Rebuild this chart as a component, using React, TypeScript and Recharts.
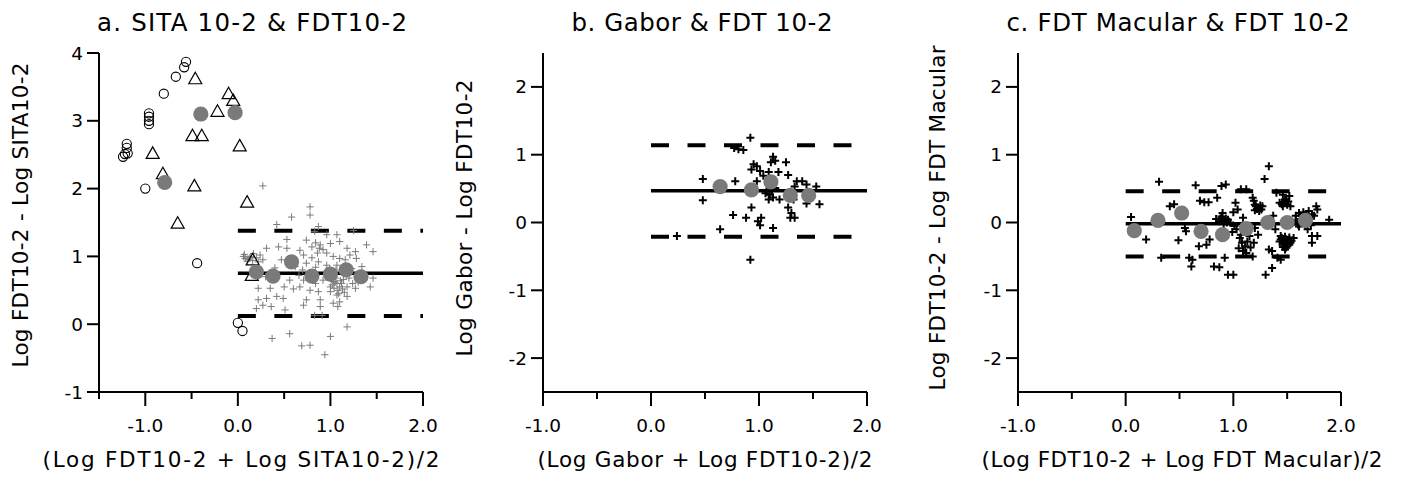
import { ReferenceLine, Scatter, ScatterChart, XAxis, YAxis } from 'recharts';

// ---- panel a: SITA 10-2 vs FDT10-2 ----
const aOpenCircles = [
  { x: -0.56, y: 3.87 }, { x: -0.58, y: 3.79 }, { x: -0.67, y: 3.65 }, { x: -0.8, y: 3.4 },
  { x: -0.96, y: 3.11 }, { x: -0.96, y: 3.06 }, { x: -0.96, y: 3.0 }, { x: -0.96, y: 2.95 },
  { x: -1.2, y: 2.66 }, { x: -1.2, y: 2.6 }, { x: -1.22, y: 2.51 }, { x: -1.24, y: 2.47 },
  { x: -1.19, y: 2.52 }, { x: -1.0, y: 2.0 }, { x: -0.44, y: 0.9 }, { x: 0.0, y: 0.02 },
  { x: 0.05, y: -0.1 },
];
const aTriangles = [
  { x: -0.46, y: 3.62 }, { x: -0.1, y: 3.4 }, { x: -0.05, y: 3.3 }, { x: -0.22, y: 3.14 },
  { x: -0.49, y: 2.78 }, { x: -0.39, y: 2.78 }, { x: -0.92, y: 2.52 }, { x: 0.02, y: 2.63 },
  { x: -0.81, y: 2.22 }, { x: -0.47, y: 2.04 }, { x: 0.1, y: 1.8 }, { x: -0.65, y: 1.49 },
  { x: 0.16, y: 0.95 }, { x: 0.15, y: 0.72 },
];
const aCrosses = [
  { x: 0.27, y: 2.04 }, { x: 0.78, y: 1.73 }, { x: 0.78, y: 1.61 }, { x: 0.58, y: 1.58 }, { x: 0.42, y: 1.47 },
  { x: 0.87, y: 1.44 }, { x: 1.25, y: 1.38 }, { x: 0.83, y: 1.37 }, { x: 0.96, y: 1.32 }, { x: 1.07, y: 1.32 },
  { x: 0.53, y: 1.25 }, { x: 0.74, y: 1.24 }, { x: 1.1, y: 1.22 }, { x: 1.39, y: 1.17 }, { x: 1.46, y: 1.07 },
  { x: 0.31, y: 1.12 }, { x: 0.44, y: 1.14 }, { x: 0.53, y: 1.12 }, { x: 0.67, y: 1.09 }, { x: 0.8, y: 1.14 },
  { x: 0.89, y: 1.17 }, { x: 1.0, y: 1.19 }, { x: 1.18, y: 1.12 }, { x: 1.27, y: 1.07 }, { x: 0.06, y: 1.0 },
  { x: 0.08, y: 0.97 }, { x: 0.11, y: 0.96 }, { x: 0.14, y: 1.0 }, { x: 0.17, y: 1.04 }, { x: 0.2, y: 0.98 },
  { x: 0.24, y: 1.02 }, { x: 0.27, y: 0.95 }, { x: 0.1, y: 0.93 }, { x: 0.22, y: 0.92 }, { x: 0.47, y: 0.95 },
  { x: 0.71, y: 1.02 }, { x: 0.96, y: 1.05 }, { x: 1.03, y: 1.0 }, { x: 1.1, y: 0.97 }, { x: 1.16, y: 0.95 },
  { x: 1.21, y: 1.02 }, { x: 1.28, y: 0.97 }, { x: 0.74, y: 0.9 }, { x: 0.87, y: 0.92 }, { x: 0.96, y: 0.87 },
  { x: 1.07, y: 0.87 }, { x: 1.23, y: 0.82 }, { x: 1.34, y: 0.85 }, { x: 0.56, y: 0.65 }, { x: 0.71, y: 0.65 },
  { x: 0.92, y: 0.65 }, { x: 1.03, y: 0.63 }, { x: 1.1, y: 0.55 }, { x: 1.18, y: 0.55 }, { x: 1.27, y: 0.53 },
  { x: 1.43, y: 0.55 }, { x: 1.46, y: 0.68 }, { x: 0.22, y: 0.53 }, { x: 0.35, y: 0.53 }, { x: 0.67, y: 0.55 },
  { x: 0.78, y: 0.5 }, { x: 0.87, y: 0.48 }, { x: 1.0, y: 0.48 }, { x: 1.07, y: 0.43 }, { x: 1.18, y: 0.41 },
  { x: 0.42, y: 0.41 }, { x: 0.49, y: 0.38 }, { x: 0.31, y: 0.38 }, { x: 0.22, y: 0.36 }, { x: 0.74, y: 0.36 },
  { x: 0.89, y: 0.36 }, { x: 1.03, y: 0.31 }, { x: 1.1, y: 0.33 }, { x: 0.71, y: 0.28 }, { x: 0.27, y: 0.28 },
  { x: 0.36, y: 0.26 }, { x: 0.2, y: 0.23 }, { x: 0.51, y: 0.21 }, { x: 0.89, y: 0.26 }, { x: 1.08, y: 0.26 },
  { x: 0.83, y: 0.13 }, { x: 0.91, y: 0.13 }, { x: 1.18, y: -0.04 }, { x: 0.37, y: -0.21 }, { x: 0.56, y: -0.14 },
  { x: 1.0, y: -0.18 }, { x: 0.69, y: -0.32 }, { x: 0.78, y: -0.31 }, { x: 0.94, y: -0.45 },
  { x: 1.02, y: 0.58 }, { x: 1.05, y: 0.62 }, { x: 1.08, y: 0.5 }, { x: 1.12, y: 0.6 }, { x: 1.06, y: 0.68 },
  { x: 1.14, y: 0.66 }, { x: 1.0, y: 0.55 }, { x: 1.09, y: 0.45 }, { x: 1.13, y: 0.52 }, { x: 1.04, y: 0.71 },
  { x: 0.95, y: 0.78 }, { x: 0.99, y: 0.82 }, { x: 1.06, y: 0.8 }, { x: 0.84, y: 0.84 }, { x: 0.8, y: 0.98 },
  { x: 0.86, y: 1.05 }, { x: 0.92, y: 1.1 }, { x: 0.7, y: 0.8 }, { x: 0.62, y: 0.85 }, { x: 0.66, y: 0.72 },
  { x: 0.6, y: 0.52 }, { x: 0.84, y: 0.6 }, { x: 0.76, y: 0.68 }, { x: 1.2, y: 0.68 }, { x: 1.24, y: 0.6 },
  { x: 1.3, y: 0.62 }, { x: 1.35, y: 0.7 }, { x: 0.5, y: 0.55 }, { x: 0.3, y: 0.7 }, { x: 0.4, y: 0.83 },
  { x: 1.07, y: 0.6 }, { x: 1.11, y: 0.64 }, { x: 1.04, y: 0.53 }, { x: 1.15, y: 0.47 }, { x: 1.01, y: 0.66 },
  { x: 0.88, y: 1.12 }, { x: 0.84, y: 1.2 }, { x: 0.13, y: 0.98 }, { x: 0.16, y: 0.94 }, { x: 0.07, y: 1.03 },
];
const aMeans = [
  { x: -0.4, y: 3.1 }, { x: -0.03, y: 3.12 }, { x: -0.79, y: 2.09 }, { x: 0.2, y: 0.77 }, { x: 0.38, y: 0.71 },
  { x: 0.58, y: 0.92 }, { x: 0.8, y: 0.71 }, { x: 1.0, y: 0.74 }, { x: 1.17, y: 0.8 }, { x: 1.33, y: 0.7 },
];
const aBias = [0.75, 1.38, 0.12]; // mean, upper, lower

// ---- panel b: Gabor vs FDT 10-2 ----
const bCrosses = [
  { x: 0.92, y: 1.25 }, { x: 0.77, y: 1.1 }, { x: 0.81, y: 1.08 }, { x: 0.855, y: 1.07 }, { x: 1.13, y: 0.97 },
  { x: 1.15, y: 0.91 }, { x: 1.11, y: 0.89 }, { x: 1.25, y: 0.89 }, { x: 0.95, y: 0.86 }, { x: 0.98, y: 0.83 },
  { x: 0.93, y: 0.78 }, { x: 1.01, y: 0.76 }, { x: 1.09, y: 0.745 }, { x: 1.18, y: 0.745 }, { x: 1.27, y: 0.7 },
  { x: 1.04, y: 0.69 }, { x: 0.48, y: 0.64 }, { x: 0.78, y: 0.61 }, { x: 0.98, y: 0.61 }, { x: 1.35, y: 0.61 },
  { x: 1.4, y: 0.61 }, { x: 1.44, y: 0.56 }, { x: 1.53, y: 0.53 }, { x: 1.33, y: 0.53 }, { x: 1.15, y: 0.51 },
  { x: 1.07, y: 0.46 }, { x: 1.1, y: 0.41 }, { x: 1.13, y: 0.37 }, { x: 1.09, y: 0.34 }, { x: 1.19, y: 0.34 },
  { x: 1.32, y: 0.34 }, { x: 1.44, y: 0.28 }, { x: 1.56, y: 0.27 }, { x: 0.48, y: 0.33 }, { x: 0.93, y: 0.22 },
  { x: 1.27, y: 0.22 }, { x: 1.3, y: 0.14 }, { x: 0.76, y: 0.11 }, { x: 0.88, y: 0.07 }, { x: 1.02, y: 0.07 },
  { x: 1.29, y: 0.07 }, { x: 1.33, y: 0.07 }, { x: 0.99, y: 0.02 }, { x: 1.01, y: -0.04 }, { x: 1.13, y: -0.08 },
  { x: 0.64, y: -0.1 }, { x: 0.24, y: -0.2 }, { x: 0.92, y: -0.55 }, { x: 1.06, y: 0.43 }, { x: 1.12, y: 0.48 },
];
const bMeans = [
  { x: 0.64, y: 0.53 }, { x: 0.93, y: 0.48 }, { x: 1.11, y: 0.6 }, { x: 1.29, y: 0.4 }, { x: 1.46, y: 0.4 },
];
const bBias = [0.47, 1.14, -0.21];

// ---- panel c: FDT Macular vs FDT 10-2 ----
const cCrosses = [
  { x: 0.05, y: 0.08 }, { x: 0.19, y: -0.25 }, { x: 0.31, y: 0.6 }, { x: 0.33, y: -0.52 }, { x: 0.41, y: 0.24 },
  { x: 0.45, y: 0.27 }, { x: 0.55, y: -0.08 }, { x: 0.56, y: -0.13 }, { x: 0.49, y: -0.26 }, { x: 0.65, y: 0.55 },
  { x: 0.69, y: 0.32 }, { x: 0.73, y: 0.3 }, { x: 0.77, y: 0.3 }, { x: 0.85, y: 0.365 }, { x: 0.89, y: 0.54 },
  { x: 0.93, y: 0.56 }, { x: 0.78, y: -0.25 }, { x: 0.75, y: -0.33 }, { x: 0.68, y: -0.35 }, { x: 0.59, y: -0.52 },
  { x: 0.62, y: -0.55 }, { x: 0.61, y: -0.65 }, { x: 0.82, y: -0.65 }, { x: 0.87, y: -0.66 }, { x: 0.92, y: -0.52 },
  { x: 0.95, y: -0.77 }, { x: 1.0, y: -0.77 }, { x: 0.9, y: 0.14 }, { x: 0.92, y: 0.02 }, { x: 0.87, y: 0.02 },
  { x: 0.95, y: 0.04 }, { x: 1.02, y: 0.29 }, { x: 1.04, y: 0.19 }, { x: 1.0, y: 0.15 }, { x: 1.07, y: 0.49 },
  { x: 1.12, y: 0.49 }, { x: 1.18, y: 0.365 }, { x: 1.19, y: 0.32 }, { x: 1.23, y: 0.22 }, { x: 1.27, y: 0.24 },
  { x: 1.26, y: 0.19 }, { x: 1.06, y: -0.23 }, { x: 1.07, y: -0.18 }, { x: 1.15, y: -0.2 }, { x: 1.23, y: -0.18 },
  { x: 1.19, y: -0.3 }, { x: 1.16, y: -0.37 }, { x: 1.12, y: -0.45 }, { x: 1.09, y: -0.42 }, { x: 1.18, y: -0.5 },
  { x: 1.29, y: 0.64 }, { x: 1.33, y: 0.83 }, { x: 1.36, y: -0.42 }, { x: 1.33, y: -0.4 }, { x: 1.41, y: -0.52 },
  { x: 1.44, y: -0.55 }, { x: 1.3, y: -0.77 }, { x: 1.36, y: -0.67 }, { x: 1.4, y: 0.44 }, { x: 1.46, y: 0.41 },
  { x: 1.52, y: 0.39 }, { x: 1.43, y: 0.29 }, { x: 1.46, y: 0.24 }, { x: 1.49, y: 0.32 }, { x: 1.53, y: 0.24 },
  { x: 1.44, y: -0.2 }, { x: 1.49, y: -0.25 }, { x: 1.53, y: -0.3 }, { x: 1.46, y: -0.33 }, { x: 1.56, y: -0.23 },
  { x: 1.5, y: -0.35 }, { x: 1.43, y: -0.28 }, { x: 1.48, y: -0.4 }, { x: 1.52, y: -0.22 }, { x: 1.47, y: -0.27 },
  { x: 1.61, y: 0.14 }, { x: 1.66, y: 0.09 }, { x: 1.7, y: 0.17 }, { x: 1.73, y: 0.12 }, { x: 1.6, y: -0.03 },
  { x: 1.67, y: -0.05 }, { x: 1.77, y: 0.24 }, { x: 1.78, y: 0.19 }, { x: 1.73, y: -0.2 }, { x: 1.78, y: -0.2 },
  { x: 1.73, y: -0.3 }, { x: 1.89, y: 0.04 }, { x: 1.21, y: 0.24 }, { x: 1.24, y: 0.17 }, { x: 0.88, y: 0.06 },
  { x: 0.97, y: 0.0 }, { x: 1.09, y: 0.07 }, { x: 1.11, y: -0.06 }, { x: 1.14, y: -0.12 }, { x: 1.03, y: -0.1 },
  { x: 1.2, y: -0.08 }, { x: 1.64, y: 0.04 }, { x: 1.58, y: 0.1 }, { x: 1.69, y: -0.1 }, { x: 1.55, y: 0.0 },
  // dense clumps
  { x: 0.9, y: 0.03 }, { x: 0.93, y: 0.06 }, { x: 0.91, y: -0.02 }, { x: 0.94, y: 0.0 }, { x: 0.89, y: 0.09 },
  { x: 1.2, y: 0.26 }, { x: 1.22, y: 0.2 }, { x: 1.25, y: 0.25 }, { x: 1.2, y: 0.18 },
  { x: 1.45, y: -0.23 }, { x: 1.47, y: -0.3 }, { x: 1.5, y: -0.28 }, { x: 1.52, y: -0.33 }, { x: 1.49, y: -0.37 },
  { x: 1.46, y: -0.36 }, { x: 1.51, y: -0.26 }, { x: 1.54, y: -0.27 }, { x: 1.48, y: -0.21 }, { x: 1.44, y: -0.25 },
  { x: 1.45, y: 0.27 }, { x: 1.47, y: 0.3 }, { x: 1.5, y: 0.26 }, { x: 1.48, y: 0.34 }, { x: 1.51, y: 0.31 },
  { x: 1.62, y: 0.1 }, { x: 1.65, y: 0.15 }, { x: 1.68, y: 0.11 }, { x: 1.63, y: 0.05 }, { x: 1.7, y: 0.06 },
  { x: 1.58, y: 0.03 }, { x: 1.61, y: -0.06 }, { x: 1.72, y: -0.04 }, { x: 1.75, y: 0.1 },
  { x: 1.08, y: -0.3 }, { x: 1.11, y: -0.35 }, { x: 1.13, y: -0.28 }, { x: 1.05, y: -0.38 },
  { x: 0.84, y: 0.05 }, { x: 0.99, y: -0.14 }, { x: 1.01, y: -0.05 }, { x: 1.37, y: 0.1 }, { x: 1.39, y: -0.1 },
];
const cMeans = [
  { x: 0.08, y: -0.12 }, { x: 0.3, y: 0.03 }, { x: 0.52, y: 0.14 }, { x: 0.7, y: -0.13 }, { x: 0.9, y: -0.18 },
  { x: 1.12, y: -0.09 }, { x: 1.32, y: 0.0 }, { x: 1.5, y: 0.0 }, { x: 1.67, y: 0.03 },
];
const cBias = [-0.02, 0.46, -0.5];

const font = "'DejaVu Sans', sans-serif";

const Plus = ({ cx, cy, r, color, w }: any) => (
  <path d={`M${cx - r},${cy}H${cx + r}M${cx},${cy - r}V${cy + r}`} stroke={color} strokeWidth={w} fill="none" />
);
const grayPlus = (p: any) => <Plus cx={p.cx} cy={p.cy} r={3.6} color="#7a7a7a" w={1} />;
const blackPlus = (p: any) => <Plus cx={p.cx} cy={p.cy} r={4} color="#000" w={2} />;
const openCircle = (p: any) => <circle cx={p.cx} cy={p.cy} r={4.6} fill="none" stroke="#000" strokeWidth={1.1} />;
const triangle = (p: any) => (
  <path
    d={`M${p.cx},${p.cy - 6.5}L${p.cx + 6.5},${p.cy + 5}L${p.cx - 6.5},${p.cy + 5}Z`}
    fill="none"
    stroke="#000"
    strokeWidth={1.2}
  />
);
const meanDot = (p: any) => <circle cx={p.cx} cy={p.cy} r={7.6} fill="#7a7a7a" />;

const XTick = ({ x, y, payload }: any) => {
  const v = payload.value;
  const major = Math.abs(v - Math.round(v)) < 1e-6;
  return (
    <g>
      <line x1={x} x2={x} y1={y} y2={y + (major ? 14 : 7)} stroke="#000" strokeWidth={2} />
      {major && (
        <text x={x} y={y + 40} textAnchor="middle" fontSize={18.5} fill="#000" fontFamily={font}>
          {v.toFixed(1)}
        </text>
      )}
    </g>
  );
};

interface PanelProps {
  left: number;
  width: number;
  mLeft: number;
  mRight: number;
  xDomain: [number, number];
  xTicks: number[];
  yDomain: [number, number];
  yTicks: number[];
  bias: number[];
  children?: any;
}

function Panel({ left, width, mLeft, mRight, xDomain, xTicks, yDomain, yTicks, bias, children }: PanelProps) {
  return (
    <div style={{ position: 'absolute', left, top: 0 }}>
      <ScatterChart width={width} height={477} margin={{ top: 53, right: mRight, left: mLeft, bottom: 15 }}>
        <XAxis
          type="number"
          dataKey="x"
          domain={xDomain}
          ticks={xTicks}
          interval={0}
          allowDataOverflow
          height={70}
          tickSize={0}
          tickMargin={0}
          tickLine={false}
          axisLine={{ stroke: '#000', strokeWidth: 2 }}
          tick={<XTick />}
        />
        <YAxis
          type="number"
          dataKey="y"
          domain={yDomain}
          ticks={yTicks}
          interval={0}
          allowDataOverflow
          width={60}
          tickSize={12}
          tickMargin={4}
          tickLine={{ stroke: '#000', strokeWidth: 2 }}
          axisLine={{ stroke: '#000', strokeWidth: 2 }}
          tick={{ fontSize: 18.5, fill: '#000', fontFamily: font }}
        />
        <ReferenceLine segment={[{ x: 0, y: bias[1] }, { x: 2, y: bias[1] }]} stroke="#000" strokeWidth={4} strokeDasharray="18 18.5" />
        <ReferenceLine segment={[{ x: 0, y: bias[2] }, { x: 2, y: bias[2] }]} stroke="#000" strokeWidth={4} strokeDasharray="18 18.5" />
        <ReferenceLine segment={[{ x: 0, y: bias[0] }, { x: 2, y: bias[0] }]} stroke="#000" strokeWidth={3.5} />
        {children}
      </ScatterChart>
    </div>
  );
}

export default function App() {
  const xTicksA = [-1.5, -1, -0.5, 0, 0.5, 1, 1.5, 2];
  const xTicksBC = [-1, -0.5, 0, 0.5, 1, 1.5, 2];
  const yTicksA = [-1, 0, 1, 2, 3, 4];
  const yTicksBC = [-2, -1, 0, 1, 2];
  return (
    <div style={{ position: 'absolute', left: 0, top: 0, width: 1402, height: 477, background: '#fff', fontFamily: font }}>
      <Panel left={0} width={460} mLeft={39} mRight={37} xDomain={[-1.5, 2]} xTicks={xTicksA} yDomain={[-1, 4]} yTicks={yTicksA} bias={aBias}>
        <Scatter data={aCrosses} shape={grayPlus} isAnimationActive={false} />
        <Scatter data={aOpenCircles} shape={openCircle} isAnimationActive={false} />
        <Scatter data={aTriangles} shape={triangle} isAnimationActive={false} />
        <Scatter data={aMeans} shape={meanDot} isAnimationActive={false} />
      </Panel>
      <Panel left={460} width={470} mLeft={23} mRight={63} xDomain={[-1, 2]} xTicks={xTicksBC} yDomain={[-2.5, 2.5]} yTicks={yTicksBC} bias={bBias}>
        <Scatter data={bCrosses} shape={blackPlus} isAnimationActive={false} />
        <Scatter data={bMeans} shape={meanDot} isAnimationActive={false} />
      </Panel>
      <Panel left={930} width={472} mLeft={28} mRight={61} xDomain={[-1, 2]} xTicks={xTicksBC} yDomain={[-2.5, 2.5]} yTicks={yTicksBC} bias={cBias}>
        <Scatter data={cCrosses} shape={blackPlus} isAnimationActive={false} />
        <Scatter data={cMeans} shape={meanDot} isAnimationActive={false} />
      </Panel>
      <svg width={1402} height={477} style={{ position: 'absolute', left: 0, top: 0, pointerEvents: 'none' }} fontFamily={font} fill="#000">
        <text x={252} y={31} fontSize={24.5} textAnchor="middle" textLength={310} lengthAdjust="spacing">a. SITA 10-2 &amp; FDT10-2</text>
        <text x={702} y={31} fontSize={24.5} textAnchor="middle" textLength={261} lengthAdjust="spacing">b. Gabor &amp; FDT 10-2</text>
        <text x={1178} y={31} fontSize={24.5} textAnchor="middle" textLength={343} lengthAdjust="spacing">c. FDT Macular &amp; FDT 10-2</text>
        <text x={241} y={467} fontSize={21.5} textAnchor="middle" textLength={397} lengthAdjust="spacing">(Log FDT10-2 + Log SITA10-2)/2</text>
        <text x={705} y={467} fontSize={21.5} textAnchor="middle" textLength={335} lengthAdjust="spacing">(Log Gabor + Log FDT10-2)/2</text>
        <text x={1182} y={467} fontSize={21.5} textAnchor="middle" textLength={401} lengthAdjust="spacing">(Log FDT10-2 + Log FDT Macular)/2</text>
        <text transform="translate(28,215) rotate(-90)" fontSize={21.5} textAnchor="middle" textLength={305} lengthAdjust="spacing">Log FDT10-2 - Log SITA10-2</text>
        <text transform="translate(472,218) rotate(-90)" fontSize={21.5} textAnchor="middle" textLength={277} lengthAdjust="spacing">Log Gabor - Log FDT10-2</text>
        <text transform="translate(945,218) rotate(-90)" fontSize={21.5} textAnchor="middle" textLength={345} lengthAdjust="spacing">Log FDT10-2 - Log FDT Macular</text>
      </svg>
    </div>
  );
}
